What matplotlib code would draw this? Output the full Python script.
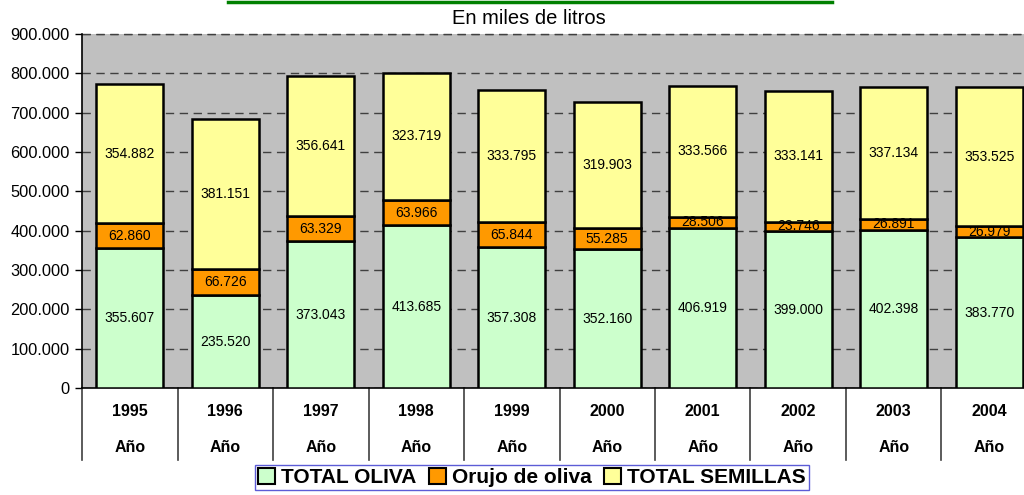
import matplotlib
matplotlib.use("Agg")
import matplotlib.pyplot as plt
from matplotlib.lines import Line2D
from matplotlib.patches import Patch
import numpy as np

plt.rcParams['font.family'] = ['Liberation Sans', 'DejaVu Sans']

years = ["1995", "1996", "1997", "1998", "1999", "2000", "2001", "2002", "2003", "2004"]
total_oliva = [355607, 235520, 373043, 413685, 357308, 352160, 406919, 399000, 402398, 383770]
orujo_oliva = [62860, 66726, 63329, 63966, 65844, 55285, 28506, 23746, 26891, 26979]
total_semillas = [354882, 381151, 356641, 323719, 333795, 319903, 333566, 333141, 337134, 353525]
series_names = ["TOTAL OLIVA", "Orujo de oliva", "TOTAL SEMILLAS"]
series_colors = ["#CCFFCC", "#FF9900", "#FFFF99"]
title = "En miles de litros"
yticks = [0, 100000, 200000, 300000, 400000, 500000, 600000, 700000, 800000, 900000]

def fmt(v):
    return f"{v:,.0f}".replace(",", ".")

W, H = 1024, 495
fig = plt.figure(figsize=(W / 100, H / 100), dpi=100)
ax_l, ax_r, ax_t, ax_b = 82, 1024, 34, 388
ax = fig.add_axes([ax_l / W, 1 - ax_b / H, (ax_r - ax_l) / W, (ax_b - ax_t) / H])
ax.set_facecolor("#C0C0C0")

x = np.arange(len(years))
cat_px = 95.5
xmax = -0.5 + (ax_r - ax_l) / cat_px
ax.set_xlim(-0.5, xmax)
ax.set_ylim(0, 900000)

ax.set_axisbelow(True)
ax.yaxis.grid(True, linestyle=(0, (6, 4)), color="#404040", linewidth=1.0)

bottoms = np.zeros(len(years))
for vals, col, name in zip([total_oliva, orujo_oliva, total_semillas], series_colors, series_names):
    vals = np.array(vals)
    ax.bar(x, vals, width=0.70, bottom=bottoms, color=col, edgecolor="black",
           linewidth=1.8, label=name, zorder=3)
    for xi, b, v in zip(x, bottoms, vals):
        ax.text(xi, b + v / 2, fmt(v), ha="center", va="center", fontsize=10, zorder=4,
                clip_on=True)
    bottoms = bottoms + vals

ax.set_yticks(yticks)
ax.set_yticklabels([fmt(v) for v in yticks], fontsize=11.8)
ax.tick_params(axis="y", direction="out", length=5, width=1, color="black", pad=4)
ax.set_xticks([])

for s in ["top", "right"]:
    ax.spines[s].set_visible(False)
ax.spines["left"].set_color("black")
ax.spines["bottom"].set_color("black")
ax.spines["left"].set_linewidth(1.2)
ax.spines["bottom"].set_linewidth(1.2)

ax.axhline(900000, linestyle=(0, (6, 4)), color="#404040", linewidth=1.0, clip_on=False)

# multi-level category labels
sep_bottom = -(460 - ax_b) / (ax_b - ax_t)
trans = ax.get_xaxis_transform()
for b in np.arange(-0.5, len(years) + 0.5, 1.0):
    if b <= xmax:
        ax.plot([b, b], [0, sep_bottom], transform=trans, color="#404040", linewidth=1.2,
                clip_on=False)
y_year = -(412 - ax_b) / (ax_b - ax_t)
y_ano = -(448 - ax_b) / (ax_b - ax_t)
for xi, yr in zip(x, years):
    ax.text(xi, y_year, yr, transform=trans, ha="center", va="center", fontsize=11.5,
            fontweight="bold")
    ax.text(xi, y_ano, "Año", transform=trans, ha="center", va="center", fontsize=11.5,
            fontweight="bold")

fig.text(529 / W, 1 - 18 / H, title, ha="center", va="center", fontsize=14.5)

fig.add_artist(Line2D([228 / W, 832 / W], [1 - 1.5 / H, 1 - 1.5 / H], color="#008000",
                      linewidth=2.5, transform=fig.transFigure))

handles = [Patch(facecolor=c, edgecolor="black", linewidth=1.5) for c in series_colors]
leg = fig.legend(handles, series_names, loc="upper center", bbox_to_anchor=(532 / W, 1 - 465 / H),
                 ncol=3, frameon=True, fancybox=False, prop={"weight": "bold", "size": 15},
                 handlelength=0.8, handleheight=0.8, handletextpad=0.3, columnspacing=0.6,
                 borderpad=0.15, borderaxespad=0)
leg.get_frame().set_edgecolor("#3333CC")
leg.get_frame().set_linewidth(1.0)

fig.savefig("out.png", dpi=100)
